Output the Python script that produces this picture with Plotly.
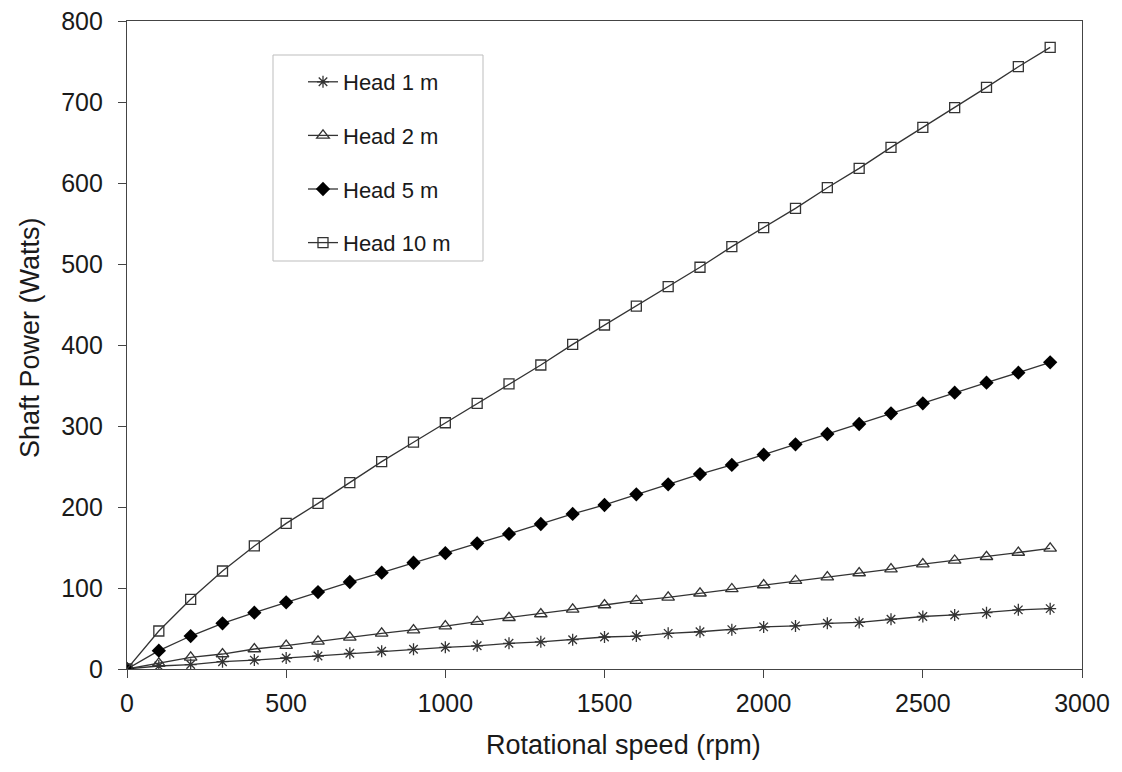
import plotly.graph_objects as go

rpm = [0, 100, 200, 300, 400, 500, 600, 700, 800, 900, 1000, 1100, 1200, 1300, 1400,
       1500, 1600, 1700, 1800, 1900, 2000, 2100, 2200, 2300, 2400, 2500, 2600, 2700, 2800, 2900]

head_1m = [0, 3.7, 5.5, 9, 11, 13.6, 16, 19.4, 22, 24.3, 26.8, 28.6, 31.7, 33.5, 36.2,
           39.5, 40.7, 44, 46, 48.6, 52, 53.2, 56.4, 57.5, 61.5, 64.8, 66.7, 69.5, 73, 74.5]
head_2m = [0, 7, 14.4, 18.5, 24.7, 28.8, 34.2, 39.1, 44, 48.1, 53, 58.4, 63.3, 67.9, 73.7,
           79, 84.3, 88.5, 93.5, 98.8, 103.7, 109, 113.5, 118.5, 123.4, 129.4, 134, 138.6, 143.8, 149]
head_5m = [0, 22.6, 40.7, 56.4, 69.5, 82.3, 95, 107.4, 118.9, 131.2, 143, 155.2, 166.7, 179, 191.4,
           202.5, 215.7, 228, 240.7, 251.9, 264.6, 277.4, 290.1, 302.5, 315.7, 328, 341.1, 353.5, 365.8, 378.6]
head_10m = [0, 46.9, 86, 121, 151.9, 179.8, 204.5, 230, 256, 280, 304, 328, 352, 375.3, 400.8,
            424.7, 448, 472, 496, 521.4, 544.8, 568.7, 594.2, 618.1, 644, 668.7, 693, 718, 743.6, 767.5]

series_names = ["Head 1 m", "Head 2 m", "Head 5 m", "Head 10 m"]
series_values = [head_1m, head_2m, head_5m, head_10m]

x_ticks = [0, 500, 1000, 1500, 2000, 2500, 3000]
y_ticks = [0, 100, 200, 300, 400, 500, 600, 700, 800]
x_title = "Rotational speed (rpm)"
y_title = "Shaft Power (Watts)"

LINE = "#333333"
FONT = "Liberation Sans, Arial, sans-serif"
TXT = "#1a1a1a"

styles = [
    dict(symbol="asterisk-open", size=10, color=LINE, line=dict(color=LINE, width=1.3)),
    dict(symbol="triangle-up-open", size=11, color=LINE, line=dict(color=LINE, width=1.3)),
    dict(symbol="diamond", size=11, color="#000000", line=dict(color="#000000", width=0)),
    dict(symbol="square-open", size=10, color=LINE, line=dict(color=LINE, width=1.3)),
]

fig = go.Figure()
for i, (name, vals) in enumerate(zip(series_names, series_values)):
    fig.add_trace(go.Scatter(
        x=rpm, y=vals, name=name, mode="lines+markers",
        line=dict(color=LINE, width=1.3),
        marker=styles[i],
        legendgroup=f"g{i}",
    ))

# legend frame
fig.add_shape(type="rect", xref="paper", yref="paper",
              x0=(273 - 127) / 955, x1=(483 - 127) / 955,
              y0=(669 - 261) / 648, y1=(669 - 55) / 648,
              line=dict(color="#bdbdbd", width=1), fillcolor="white", layer="below")

# axis titles
fig.add_annotation(text=x_title, xref="paper", yref="paper",
                   x=(623 - 127) / 955, y=(669 - 745) / 648,
                   xanchor="center", yanchor="middle", showarrow=False,
                   font=dict(family=FONT, size=27, color=TXT))
fig.add_annotation(text=y_title, xref="paper", yref="paper",
                   x=(30 - 127) / 955, y=(669 - 338) / 648, textangle=-90,
                   xanchor="center", yanchor="middle", showarrow=False,
                   font=dict(family=FONT, size=27, color=TXT))

fig.update_layout(
    width=1122, height=772,
    margin=dict(l=127, r=40, t=21, b=103, autoexpand=False),
    paper_bgcolor="white", plot_bgcolor="white",
    font=dict(family=FONT, size=25, color=TXT),
    showlegend=True,
    legend=dict(
        x=(303 - 127) / 955, y=(669 - 61) / 648, xanchor="left", yanchor="top",
        bgcolor="rgba(0,0,0,0)", borderwidth=0,
        font=dict(family=FONT, size=22, color=TXT),
        tracegroupgap=22, itemwidth=30,
    ),
    xaxis=dict(
        range=[0, 3000], tickvals=x_ticks, ticks="outside", ticklen=8, tickwidth=1.3,
        tickcolor="#444", showline=True, linecolor="#444", linewidth=1.3, mirror=True,
        showgrid=False, zeroline=False, tickfont=dict(size=25), ticklabelstandoff=4,
        automargin=False,
    ),
    yaxis=dict(
        range=[0, 800], tickvals=y_ticks, ticks="outside", ticklen=8, tickwidth=1.3,
        tickcolor="#444", showline=True, linecolor="#444", linewidth=1.3, mirror=True,
        showgrid=False, zeroline=False, tickfont=dict(size=25), ticklabelstandoff=10,
        automargin=False,
    ),
)

fig.write_html("out.html")
